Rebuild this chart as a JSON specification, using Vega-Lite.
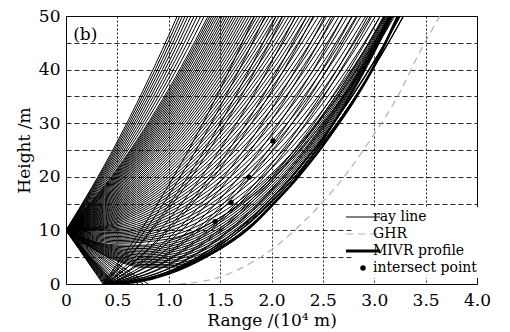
{
"$schema":"https://vega.github.io/schema/vega-lite/v6.json",
"width":411,"height":268,
"autosize":{"type":"none"},
"padding":{"left":66,"top":16,"right":33,"bottom":48},
"background":"white",
"config":{
 "view":{"stroke":"black","strokeWidth":1},
 "font":"DejaVu Serif",
 "axis":{"labelFont":"DejaVu Serif","titleFont":"DejaVu Serif","labelFontSize":17,"titleFontSize":17,"titleFontWeight":"normal","labelColor":"black","titleColor":"black","ticks":false,"domain":false,"grid":true,"gridColor":"#111","gridWidth":1,"gridOpacity":0.9,"zindex":1}
},
"datasets":{
"rays":[
{"i":1,"x":0,"y":10},{"i":1,"x":0.5,"y":26.6},{"i":1,"x":1,"y":46.4},{"i":1,"x":1.5,"y":69.4},
{"i":2,"x":0,"y":10},{"i":2,"x":0.5,"y":26.1},{"i":2,"x":1,"y":45.4},{"i":2,"x":1.5,"y":67.9},
{"i":3,"x":0,"y":10},{"i":3,"x":0.5,"y":25.6},{"i":3,"x":1,"y":44.4},{"i":3,"x":1.5,"y":66.4},
{"i":4,"x":0,"y":10},{"i":4,"x":0.5,"y":25.1},{"i":4,"x":1,"y":43.4},{"i":4,"x":1.5,"y":64.9},
{"i":5,"x":0,"y":10},{"i":5,"x":0.5,"y":24.6},{"i":5,"x":1,"y":42.4},{"i":5,"x":1.5,"y":63.4},
{"i":6,"x":0,"y":10},{"i":6,"x":0.5,"y":24.1},{"i":6,"x":1,"y":41.4},{"i":6,"x":1.5,"y":61.9},
{"i":7,"x":0,"y":10},{"i":7,"x":0.5,"y":23.6},{"i":7,"x":1,"y":40.4},{"i":7,"x":1.5,"y":60.4},
{"i":8,"x":0,"y":10},{"i":8,"x":0.5,"y":23.1},{"i":8,"x":1,"y":39.4},{"i":8,"x":1.5,"y":58.9},
{"i":9,"x":0,"y":10},{"i":9,"x":0.5,"y":22.6},{"i":9,"x":1,"y":38.4},{"i":9,"x":1.5,"y":57.4},
{"i":10,"x":0,"y":10},{"i":10,"x":0.5,"y":22.1},{"i":10,"x":1,"y":37.4},{"i":10,"x":1.5,"y":55.9},
{"i":11,"x":0,"y":10},{"i":11,"x":0.5,"y":21.6},{"i":11,"x":1,"y":36.4},{"i":11,"x":1.5,"y":54.4},
{"i":12,"x":0,"y":10},{"i":12,"x":0.5,"y":21.1},{"i":12,"x":1,"y":35.4},{"i":12,"x":1.5,"y":52.9},
{"i":13,"x":0,"y":10},{"i":13,"x":0.5,"y":20.6},{"i":13,"x":1,"y":34.4},{"i":13,"x":1.5,"y":51.4},
{"i":14,"x":0,"y":10},{"i":14,"x":0.5,"y":20.1},{"i":14,"x":1,"y":33.4},{"i":14,"x":1.5,"y":49.9},{"i":14,"x":2,"y":69.6},
{"i":15,"x":0,"y":10},{"i":15,"x":0.5,"y":19.6},{"i":15,"x":1,"y":32.4},{"i":15,"x":1.5,"y":48.4},{"i":15,"x":2,"y":67.6},
{"i":16,"x":0,"y":10},{"i":16,"x":0.5,"y":19.1},{"i":16,"x":1,"y":31.4},{"i":16,"x":1.5,"y":46.9},{"i":16,"x":2,"y":65.6},
{"i":17,"x":0,"y":10},{"i":17,"x":0.5,"y":18.6},{"i":17,"x":1,"y":30.4},{"i":17,"x":1.5,"y":45.4},{"i":17,"x":2,"y":63.6},
{"i":18,"x":0,"y":10},{"i":18,"x":0.5,"y":18.1},{"i":18,"x":1,"y":29.4},{"i":18,"x":1.5,"y":43.9},{"i":18,"x":2,"y":61.6},
{"i":19,"x":0,"y":10},{"i":19,"x":0.5,"y":17.6},{"i":19,"x":1,"y":28.4},{"i":19,"x":1.5,"y":42.4},{"i":19,"x":2,"y":59.6},
{"i":20,"x":0,"y":10},{"i":20,"x":0.5,"y":17.1},{"i":20,"x":1,"y":27.4},{"i":20,"x":1.5,"y":40.9},{"i":20,"x":2,"y":57.6},
{"i":21,"x":0,"y":10},{"i":21,"x":0.5,"y":16.6},{"i":21,"x":1,"y":26.4},{"i":21,"x":1.5,"y":39.4},{"i":21,"x":2,"y":55.6},
{"i":22,"x":0,"y":10},{"i":22,"x":0.5,"y":16.1},{"i":22,"x":1,"y":25.4},{"i":22,"x":1.5,"y":37.9},{"i":22,"x":2,"y":53.6},
{"i":23,"x":0,"y":10},{"i":23,"x":0.5,"y":15.6},{"i":23,"x":1,"y":24.4},{"i":23,"x":1.5,"y":36.4},{"i":23,"x":2,"y":51.6},
{"i":24,"x":0,"y":10},{"i":24,"x":0.5,"y":15.1},{"i":24,"x":1,"y":23.4},{"i":24,"x":1.5,"y":34.9},{"i":24,"x":2,"y":49.6},{"i":24,"x":2.5,"y":67.5},
{"i":25,"x":0,"y":10},{"i":25,"x":0.5,"y":14.6},{"i":25,"x":1,"y":22.4},{"i":25,"x":1.5,"y":33.4},{"i":25,"x":2,"y":47.6},{"i":25,"x":2.5,"y":65},
{"i":26,"x":0,"y":10},{"i":26,"x":0.5,"y":14.1},{"i":26,"x":1,"y":21.4},{"i":26,"x":1.5,"y":31.9},{"i":26,"x":2,"y":45.6},{"i":26,"x":2.5,"y":62.5},
{"i":27,"x":0,"y":10},{"i":27,"x":0.5,"y":13.6},{"i":27,"x":1,"y":20.4},{"i":27,"x":1.5,"y":30.4},{"i":27,"x":2,"y":43.6},{"i":27,"x":2.5,"y":60},
{"i":28,"x":0,"y":10},{"i":28,"x":0.5,"y":13.1},{"i":28,"x":1,"y":19.4},{"i":28,"x":1.5,"y":28.9},{"i":28,"x":2,"y":41.6},{"i":28,"x":2.5,"y":57.5},
{"i":29,"x":0,"y":10},{"i":29,"x":0.5,"y":12.6},{"i":29,"x":1,"y":18.4},{"i":29,"x":1.5,"y":27.4},{"i":29,"x":2,"y":39.6},{"i":29,"x":2.5,"y":55},
{"i":30,"x":0,"y":10},{"i":30,"x":0.5,"y":12.1},{"i":30,"x":1,"y":17.4},{"i":30,"x":1.5,"y":25.9},{"i":30,"x":2,"y":37.6},{"i":30,"x":2.5,"y":52.5},
{"i":31,"x":0,"y":10},{"i":31,"x":0.5,"y":11.6},{"i":31,"x":1,"y":16.4},{"i":31,"x":1.5,"y":24.4},{"i":31,"x":2,"y":35.6},{"i":31,"x":2.5,"y":50},{"i":31,"x":3,"y":67.6},
{"i":32,"x":0,"y":10},{"i":32,"x":0.5,"y":11.1},{"i":32,"x":1,"y":15.4},{"i":32,"x":1.5,"y":22.9},{"i":32,"x":2,"y":33.6},{"i":32,"x":2.5,"y":47.5},{"i":32,"x":3,"y":64.6},
{"i":33,"x":0,"y":10},{"i":33,"x":0.5,"y":10.6},{"i":33,"x":1,"y":14.4},{"i":33,"x":1.5,"y":21.4},{"i":33,"x":2,"y":31.6},{"i":33,"x":2.5,"y":45},{"i":33,"x":3,"y":61.6},
{"i":34,"x":0,"y":10},{"i":34,"x":0.5,"y":10.1},{"i":34,"x":1,"y":13.4},{"i":34,"x":1.5,"y":19.9},{"i":34,"x":2,"y":29.6},{"i":34,"x":2.5,"y":42.5},{"i":34,"x":3,"y":58.6},
{"i":35,"x":0,"y":10},{"i":35,"x":0.5,"y":9.6},{"i":35,"x":1,"y":12.4},{"i":35,"x":1.5,"y":18.4},{"i":35,"x":2,"y":27.6},{"i":35,"x":2.5,"y":40},{"i":35,"x":3,"y":55.6},
{"i":36,"x":0,"y":10},{"i":36,"x":0.5,"y":9.1},{"i":36,"x":1,"y":11.4},{"i":36,"x":1.5,"y":16.9},{"i":36,"x":2,"y":25.6},{"i":36,"x":2.5,"y":37.5},{"i":36,"x":3,"y":52.6},
{"i":37,"x":0,"y":10},{"i":37,"x":0.5,"y":8.6},{"i":37,"x":1,"y":10.4},{"i":37,"x":1.5,"y":15.4},{"i":37,"x":2,"y":23.6},{"i":37,"x":2.5,"y":35},{"i":37,"x":3,"y":49.6},{"i":37,"x":3.5,"y":67.4},
{"i":38,"x":0,"y":10},{"i":38,"x":0.5,"y":8.1},{"i":38,"x":1,"y":9.4},{"i":38,"x":1.5,"y":13.9},{"i":38,"x":2,"y":21.6},{"i":38,"x":2.5,"y":32.5},{"i":38,"x":3,"y":46.6},{"i":38,"x":3.5,"y":63.9},
{"i":39,"x":0,"y":10},{"i":39,"x":0.5,"y":7.6},{"i":39,"x":1,"y":8.4},{"i":39,"x":1.5,"y":12.4},{"i":39,"x":2,"y":19.6},{"i":39,"x":2.5,"y":30},{"i":39,"x":3,"y":43.6},{"i":39,"x":3.5,"y":60.4},
{"i":40,"x":0,"y":10},{"i":40,"x":0.5,"y":7.27},{"i":40,"x":0.75,"y":7.22},{"i":40,"x":1,"y":8.07},{"i":40,"x":1.5,"y":12.4},{"i":40,"x":2,"y":20.26},{"i":40,"x":2.5,"y":31.66},{"i":40,"x":3,"y":46.59},{"i":40,"x":3.5,"y":65.06},
{"i":41,"x":0,"y":10},{"i":41,"x":0.5,"y":6.83},{"i":41,"x":0.75,"y":6.61},{"i":41,"x":1,"y":7.31},{"i":41,"x":1.5,"y":11.46},{"i":41,"x":2,"y":19.26},{"i":41,"x":2.5,"y":30.71},{"i":41,"x":3,"y":45.83},{"i":41,"x":3.5,"y":64.6},
{"i":42,"x":0,"y":10},{"i":42,"x":0.5,"y":6.39},{"i":42,"x":0.75,"y":6.0},{"i":42,"x":1,"y":6.56},{"i":42,"x":1.5,"y":10.51},{"i":42,"x":2,"y":18.24},{"i":42,"x":2.5,"y":29.75},{"i":42,"x":3,"y":45.04},{"i":42,"x":3.5,"y":64.11},
{"i":43,"x":0,"y":10},{"i":43,"x":0.5,"y":5.96},{"i":43,"x":0.75,"y":5.41},{"i":43,"x":1,"y":5.84},{"i":43,"x":1.5,"y":9.64},{"i":43,"x":2,"y":17.36},{"i":43,"x":2.5,"y":29.01},{"i":43,"x":3,"y":44.57},{"i":43,"x":3.5,"y":64.05},
{"i":44,"x":0,"y":10},{"i":44,"x":0.5,"y":5.53},{"i":44,"x":0.75,"y":4.82},{"i":44,"x":1,"y":5.12},{"i":44,"x":1.5,"y":8.77},{"i":44,"x":2,"y":16.48},{"i":44,"x":2.5,"y":28.25},{"i":44,"x":3,"y":44.08},{"i":44,"x":3.5,"y":63.97},
{"i":45,"x":0,"y":10},{"i":45,"x":0.5,"y":5.1},{"i":45,"x":0.75,"y":4.22},{"i":45,"x":1,"y":4.4},{"i":45,"x":1.5,"y":7.89},{"i":45,"x":2,"y":15.59},{"i":45,"x":2.5,"y":27.48},{"i":45,"x":3,"y":43.57},{"i":45,"x":3.5,"y":63.86},
{"i":46,"x":0,"y":10},{"i":46,"x":0.5,"y":4.67},{"i":46,"x":0.75,"y":3.63},{"i":46,"x":1,"y":3.67},{"i":46,"x":1.5,"y":7.01},{"i":46,"x":2,"y":14.69},{"i":46,"x":2.5,"y":26.71},{"i":46,"x":3,"y":43.06},{"i":46,"x":3.5,"y":63.74},
{"i":47,"x":0,"y":10},{"i":47,"x":0.5,"y":4.28},{"i":47,"x":0.75,"y":3.12},{"i":47,"x":1,"y":3.11},{"i":47,"x":1.5,"y":6.5},{"i":47,"x":2,"y":14.44},{"i":47,"x":2.5,"y":26.94},{"i":47,"x":3,"y":44.0},{"i":47,"x":3.5,"y":65.6},
{"i":48,"x":0,"y":10},{"i":48,"x":0.36,"y":0},
{"i":49,"x":0,"y":10},{"i":49,"x":0.37,"y":0},
{"i":50,"x":0,"y":10},{"i":50,"x":0.38,"y":0},
{"i":51,"x":0,"y":10},{"i":51,"x":0.39,"y":0},
{"i":52,"x":0,"y":10},{"i":52,"x":0.40,"y":0},
{"i":53,"x":0,"y":10},{"i":53,"x":0.41,"y":0},
{"i":54,"x":0,"y":10},{"i":54,"x":0.42,"y":0},
{"i":55,"x":0,"y":10},{"i":55,"x":0.43,"y":0},
{"i":56,"x":0,"y":10},{"i":56,"x":0.44,"y":0},
{"i":57,"x":0,"y":10},{"i":57,"x":0.45,"y":0},
{"i":58,"x":0,"y":10},{"i":58,"x":0.46,"y":0},
{"i":59,"x":0,"y":10},{"i":59,"x":0.47,"y":0},
{"i":60,"x":0,"y":10},{"i":60,"x":0.48,"y":0},
{"i":61,"x":0,"y":10},{"i":61,"x":0.50,"y":0},
{"i":62,"x":0,"y":10},{"i":62,"x":0.52,"y":0},
{"i":63,"x":0,"y":10},{"i":63,"x":0.55,"y":0},
{"i":64,"x":0,"y":10},{"i":64,"x":0.58,"y":0},
{"i":65,"x":0,"y":10},{"i":65,"x":0.62,"y":0},
{"i":125,"x":0,"y":10},{"i":125,"x":0.66,"y":0},
{"i":126,"x":0,"y":10},{"i":126,"x":0.70,"y":0},
{"i":127,"x":0,"y":10},{"i":127,"x":0.75,"y":0},
{"i":128,"x":0,"y":10},{"i":128,"x":0.80,"y":0},
{"i":66,"x":0.36,"y":0},{"i":66,"x":0.86,"y":14},{"i":66,"x":1.36,"y":31},{"i":66,"x":1.86,"y":51},
{"i":67,"x":0.37,"y":0},{"i":67,"x":0.87,"y":12.75},{"i":67,"x":1.37,"y":28.5},{"i":67,"x":1.87,"y":47.25},{"i":67,"x":2.37,"y":69},
{"i":68,"x":0.38,"y":0},{"i":68,"x":0.88,"y":11.5},{"i":68,"x":1.38,"y":26},{"i":68,"x":1.88,"y":43.5},{"i":68,"x":2.38,"y":64},
{"i":69,"x":0.36,"y":0},{"i":69,"x":0.86,"y":10.5},{"i":69,"x":1.36,"y":24},{"i":69,"x":1.86,"y":40.5},{"i":69,"x":2.36,"y":60},
{"i":70,"x":0.39,"y":0},{"i":70,"x":0.89,"y":9.5},{"i":70,"x":1.39,"y":22},{"i":70,"x":1.89,"y":37.5},{"i":70,"x":2.39,"y":56},
{"i":71,"x":0.40,"y":0},{"i":71,"x":0.90,"y":8.5},{"i":71,"x":1.40,"y":20},{"i":71,"x":1.90,"y":34.5},{"i":71,"x":2.40,"y":52},
{"i":72,"x":0.38,"y":0},{"i":72,"x":0.88,"y":7.75},{"i":72,"x":1.38,"y":18.5},{"i":72,"x":1.88,"y":32.25},{"i":72,"x":2.38,"y":49},{"i":72,"x":2.88,"y":68.75},
{"i":73,"x":0.41,"y":0},{"i":73,"x":0.91,"y":7},{"i":73,"x":1.41,"y":17},{"i":73,"x":1.91,"y":30},{"i":73,"x":2.41,"y":46},{"i":73,"x":2.91,"y":65},
{"i":74,"x":0.40,"y":0},{"i":74,"x":0.90,"y":6.25},{"i":74,"x":1.40,"y":15.5},{"i":74,"x":1.90,"y":27.75},{"i":74,"x":2.40,"y":43},{"i":74,"x":2.90,"y":61.25},
{"i":75,"x":0.42,"y":0},{"i":75,"x":0.92,"y":5.6},{"i":75,"x":1.42,"y":14.2},{"i":75,"x":1.92,"y":25.8},{"i":75,"x":2.42,"y":40.4},{"i":75,"x":2.92,"y":58},
{"i":76,"x":0.43,"y":0},{"i":76,"x":0.93,"y":5},{"i":76,"x":1.43,"y":13},{"i":76,"x":1.93,"y":24},{"i":76,"x":2.43,"y":38},{"i":76,"x":2.93,"y":55},
{"i":77,"x":0.41,"y":0},{"i":77,"x":0.91,"y":4.5},{"i":77,"x":1.41,"y":12},{"i":77,"x":1.91,"y":22.5},{"i":77,"x":2.41,"y":36},{"i":77,"x":2.91,"y":52.5},
{"i":78,"x":0.44,"y":0},{"i":78,"x":0.94,"y":4},{"i":78,"x":1.44,"y":11},{"i":78,"x":1.94,"y":21},{"i":78,"x":2.44,"y":34},{"i":78,"x":2.94,"y":50},{"i":78,"x":3.44,"y":69},
{"i":79,"x":0.42,"y":0},{"i":79,"x":0.92,"y":3.6},{"i":79,"x":1.42,"y":10.2},{"i":79,"x":1.92,"y":19.8},{"i":79,"x":2.42,"y":32.4},{"i":79,"x":2.92,"y":48},{"i":79,"x":3.42,"y":66.6},
{"i":80,"x":0.45,"y":0},{"i":80,"x":0.95,"y":3.25},{"i":80,"x":1.45,"y":9.5},{"i":80,"x":1.95,"y":18.75},{"i":80,"x":2.45,"y":31},{"i":80,"x":2.95,"y":46.25},{"i":80,"x":3.45,"y":64.5},
{"i":81,"x":0.43,"y":0},{"i":81,"x":0.93,"y":2.9},{"i":81,"x":1.43,"y":8.8},{"i":81,"x":1.93,"y":17.7},{"i":81,"x":2.43,"y":29.6},{"i":81,"x":2.93,"y":44.5},{"i":81,"x":3.43,"y":62.4},
{"i":82,"x":0.46,"y":0},{"i":82,"x":0.96,"y":2.6},{"i":82,"x":1.46,"y":8.2},{"i":82,"x":1.96,"y":16.8},{"i":82,"x":2.46,"y":28.4},{"i":82,"x":2.96,"y":43},{"i":82,"x":3.46,"y":60.6},
{"i":83,"x":0.44,"y":0},{"i":83,"x":0.94,"y":2.35},{"i":83,"x":1.44,"y":7.7},{"i":83,"x":1.94,"y":16.05},{"i":83,"x":2.44,"y":27.4},{"i":83,"x":2.94,"y":41.75},{"i":83,"x":3.44,"y":59.1},
{"i":84,"x":0.47,"y":0},{"i":84,"x":0.97,"y":2.15},{"i":84,"x":1.47,"y":7.3},{"i":84,"x":1.97,"y":15.45},{"i":84,"x":2.47,"y":26.6},{"i":84,"x":2.97,"y":40.75},{"i":84,"x":3.47,"y":57.9},
{"i":85,"x":0.45,"y":0},{"i":85,"x":0.95,"y":2},{"i":85,"x":1.45,"y":7},{"i":85,"x":1.95,"y":15},{"i":85,"x":2.45,"y":26},{"i":85,"x":2.95,"y":40},{"i":85,"x":3.45,"y":57},
{"i":86,"x":0.43,"y":0},{"i":86,"x":0.93,"y":1.85},{"i":86,"x":1.43,"y":6.7},{"i":86,"x":1.93,"y":14.55},{"i":86,"x":2.43,"y":25.4},{"i":86,"x":2.93,"y":39.25},{"i":86,"x":3.43,"y":56.1},
{"i":87,"x":0.44,"y":0},{"i":87,"x":0.94,"y":1.73},{"i":87,"x":1.44,"y":6.45},{"i":87,"x":1.94,"y":14.18},{"i":87,"x":2.44,"y":24.9},{"i":87,"x":2.94,"y":38.6},{"i":87,"x":3.44,"y":55.35},
{"i":88,"x":0.42,"y":0},{"i":88,"x":0.92,"y":1.63},{"i":88,"x":1.42,"y":6.25},{"i":88,"x":1.92,"y":13.88},{"i":88,"x":2.42,"y":24.5},{"i":88,"x":2.92,"y":38.1},{"i":88,"x":3.42,"y":54.75},
{"i":89,"x":0.41,"y":0},{"i":89,"x":0.91,"y":1.55},{"i":89,"x":1.41,"y":6.1},{"i":89,"x":1.91,"y":13.65},{"i":89,"x":2.41,"y":24.2},{"i":89,"x":2.91,"y":37.75},{"i":89,"x":3.41,"y":54.3},
{"i":90,"x":0,"y":10},{"i":90,"x":0.5,"y":21.35},{"i":90,"x":1,"y":35.9},{"i":90,"x":1.5,"y":53.65},
{"i":91,"x":0,"y":10},{"i":91,"x":0.5,"y":20.85},{"i":91,"x":1,"y":34.9},{"i":91,"x":1.5,"y":52.15},
{"i":92,"x":0,"y":10},{"i":92,"x":0.5,"y":20.35},{"i":92,"x":1,"y":33.9},{"i":92,"x":1.5,"y":50.65},
{"i":93,"x":0,"y":10},{"i":93,"x":0.5,"y":19.85},{"i":93,"x":1,"y":32.9},{"i":93,"x":1.5,"y":49.15},{"i":93,"x":2,"y":68.6},
{"i":94,"x":0,"y":10},{"i":94,"x":0.5,"y":19.35},{"i":94,"x":1,"y":31.9},{"i":94,"x":1.5,"y":47.65},{"i":94,"x":2,"y":66.6},
{"i":95,"x":0,"y":10},{"i":95,"x":0.5,"y":18.85},{"i":95,"x":1,"y":30.9},{"i":95,"x":1.5,"y":46.15},{"i":95,"x":2,"y":64.6},
{"i":96,"x":0,"y":10},{"i":96,"x":0.5,"y":18.35},{"i":96,"x":1,"y":29.9},{"i":96,"x":1.5,"y":44.65},{"i":96,"x":2,"y":62.6},
{"i":97,"x":0,"y":10},{"i":97,"x":0.5,"y":17.85},{"i":97,"x":1,"y":28.9},{"i":97,"x":1.5,"y":43.15},{"i":97,"x":2,"y":60.6},
{"i":98,"x":0,"y":10},{"i":98,"x":0.5,"y":17.35},{"i":98,"x":1,"y":27.9},{"i":98,"x":1.5,"y":41.65},{"i":98,"x":2,"y":58.6},
{"i":99,"x":0,"y":10},{"i":99,"x":0.5,"y":16.85},{"i":99,"x":1,"y":26.9},{"i":99,"x":1.5,"y":40.15},{"i":99,"x":2,"y":56.6},
{"i":100,"x":0,"y":10},{"i":100,"x":0.5,"y":16.35},{"i":100,"x":1,"y":25.9},{"i":100,"x":1.5,"y":38.65},{"i":100,"x":2,"y":54.6},
{"i":101,"x":0,"y":10},{"i":101,"x":0.5,"y":15.85},{"i":101,"x":1,"y":24.9},{"i":101,"x":1.5,"y":37.15},{"i":101,"x":2,"y":52.6},
{"i":102,"x":0,"y":10},{"i":102,"x":0.5,"y":15.35},{"i":102,"x":1,"y":23.9},{"i":102,"x":1.5,"y":35.65},{"i":102,"x":2,"y":50.6},
{"i":103,"x":0,"y":10},{"i":103,"x":0.5,"y":14.85},{"i":103,"x":1,"y":22.9},{"i":103,"x":1.5,"y":34.15},{"i":103,"x":2,"y":48.6},{"i":103,"x":2.5,"y":66.25},
{"i":104,"x":0,"y":10},{"i":104,"x":0.5,"y":14.35},{"i":104,"x":1,"y":21.9},{"i":104,"x":1.5,"y":32.65},{"i":104,"x":2,"y":46.6},{"i":104,"x":2.5,"y":63.75},
{"i":105,"x":0,"y":10},{"i":105,"x":0.5,"y":13.85},{"i":105,"x":1,"y":20.9},{"i":105,"x":1.5,"y":31.15},{"i":105,"x":2,"y":44.6},{"i":105,"x":2.5,"y":61.25},
{"i":106,"x":0,"y":10},{"i":106,"x":0.5,"y":13.35},{"i":106,"x":1,"y":19.9},{"i":106,"x":1.5,"y":29.65},{"i":106,"x":2,"y":42.6},{"i":106,"x":2.5,"y":58.75},
{"i":107,"x":0,"y":10},{"i":107,"x":0.5,"y":12.85},{"i":107,"x":1,"y":18.9},{"i":107,"x":1.5,"y":28.15},{"i":107,"x":2,"y":40.6},{"i":107,"x":2.5,"y":56.25},
{"i":108,"x":0,"y":10},{"i":108,"x":0.5,"y":12.35},{"i":108,"x":1,"y":17.9},{"i":108,"x":1.5,"y":26.65},{"i":108,"x":2,"y":38.6},{"i":108,"x":2.5,"y":53.75},
{"i":109,"x":0,"y":10},{"i":109,"x":0.5,"y":11.85},{"i":109,"x":1,"y":16.9},{"i":109,"x":1.5,"y":25.15},{"i":109,"x":2,"y":36.6},{"i":109,"x":2.5,"y":51.25},
{"i":110,"x":0,"y":10},{"i":110,"x":0.5,"y":11.35},{"i":110,"x":1,"y":15.9},{"i":110,"x":1.5,"y":23.65},{"i":110,"x":2,"y":34.6},{"i":110,"x":2.5,"y":48.75},{"i":110,"x":3,"y":66.1},
{"i":111,"x":0,"y":10},{"i":111,"x":0.5,"y":10.85},{"i":111,"x":1,"y":14.9},{"i":111,"x":1.5,"y":22.15},{"i":111,"x":2,"y":32.6},{"i":111,"x":2.5,"y":46.25},{"i":111,"x":3,"y":63.1},
{"i":112,"x":0,"y":10},{"i":112,"x":0.5,"y":10.35},{"i":112,"x":1,"y":13.9},{"i":112,"x":1.5,"y":20.65},{"i":112,"x":2,"y":30.6},{"i":112,"x":2.5,"y":43.75},{"i":112,"x":3,"y":60.1},
{"i":113,"x":0,"y":10},{"i":113,"x":0.5,"y":9.85},{"i":113,"x":1,"y":12.9},{"i":113,"x":1.5,"y":19.15},{"i":113,"x":2,"y":28.6},{"i":113,"x":2.5,"y":41.25},{"i":113,"x":3,"y":57.1},
{"i":114,"x":0,"y":10},{"i":114,"x":0.5,"y":9.35},{"i":114,"x":1,"y":11.9},{"i":114,"x":1.5,"y":17.65},{"i":114,"x":2,"y":26.6},{"i":114,"x":2.5,"y":38.75},{"i":114,"x":3,"y":54.1},
{"i":115,"x":0,"y":10},{"i":115,"x":0.5,"y":8.85},{"i":115,"x":1,"y":10.9},{"i":115,"x":1.5,"y":16.15},{"i":115,"x":2,"y":24.6},{"i":115,"x":2.5,"y":36.25},{"i":115,"x":3,"y":51.1},
{"i":116,"x":0,"y":10},{"i":116,"x":0.5,"y":8.35},{"i":116,"x":1,"y":9.9},{"i":116,"x":1.5,"y":14.65},{"i":116,"x":2,"y":22.6},{"i":116,"x":2.5,"y":33.75},{"i":116,"x":3,"y":48.1},{"i":116,"x":3.5,"y":65.65},
{"i":117,"x":0,"y":10},{"i":117,"x":0.5,"y":7.85},{"i":117,"x":1,"y":8.9},{"i":117,"x":1.5,"y":13.15},{"i":117,"x":2,"y":20.6},{"i":117,"x":2.5,"y":31.25},{"i":117,"x":3,"y":45.1},{"i":117,"x":3.5,"y":62.15},
{"i":118,"x":0,"y":10},{"i":118,"x":0.5,"y":7.05},{"i":118,"x":0.75,"y":6.92},{"i":118,"x":1,"y":7.69},{"i":118,"x":1.5,"y":11.93},{"i":118,"x":2,"y":19.76},{"i":118,"x":2.5,"y":31.19},{"i":118,"x":3,"y":46.21},{"i":118,"x":3.5,"y":64.83},
{"i":119,"x":0,"y":10},{"i":119,"x":0.5,"y":6.61},{"i":119,"x":0.75,"y":6.31},{"i":119,"x":1,"y":6.94},{"i":119,"x":1.5,"y":10.99},{"i":119,"x":2,"y":18.75},{"i":119,"x":2.5,"y":30.24},{"i":119,"x":3,"y":45.44},{"i":119,"x":3.5,"y":64.37},
{"i":120,"x":0,"y":10},{"i":120,"x":0.5,"y":6.18},{"i":120,"x":0.75,"y":5.71},{"i":120,"x":1,"y":6.2},{"i":120,"x":1.5,"y":10.08},{"i":120,"x":2,"y":17.8},{"i":120,"x":2.5,"y":29.38},{"i":120,"x":3,"y":44.81},{"i":120,"x":3.5,"y":64.09},
{"i":121,"x":0,"y":10},{"i":121,"x":0.5,"y":5.75},{"i":121,"x":0.75,"y":5.11},{"i":121,"x":1,"y":5.48},{"i":121,"x":1.5,"y":9.21},{"i":121,"x":2,"y":16.92},{"i":121,"x":2.5,"y":28.63},{"i":121,"x":3,"y":44.32},{"i":121,"x":3.5,"y":64.01},
{"i":122,"x":0,"y":10},{"i":122,"x":0.5,"y":5.31},{"i":122,"x":0.75,"y":4.52},{"i":122,"x":1,"y":4.76},{"i":122,"x":1.5,"y":8.33},{"i":122,"x":2,"y":16.04},{"i":122,"x":2.5,"y":27.87},{"i":122,"x":3,"y":43.83},{"i":122,"x":3.5,"y":63.92},
{"i":123,"x":0,"y":10},{"i":123,"x":0.5,"y":4.88},{"i":123,"x":0.75,"y":3.93},{"i":123,"x":1,"y":4.04},{"i":123,"x":1.5,"y":7.45},{"i":123,"x":2,"y":15.14},{"i":123,"x":2.5,"y":27.09},{"i":123,"x":3,"y":43.32},{"i":123,"x":3.5,"y":63.8},
{"i":124,"x":0,"y":10},{"i":124,"x":0.5,"y":4.47},{"i":124,"x":0.75,"y":3.38},{"i":124,"x":1,"y":3.39},{"i":124,"x":1.5,"y":6.75},{"i":124,"x":2,"y":14.56},{"i":124,"x":2.5,"y":26.82},{"i":124,"x":3,"y":43.52},{"i":124,"x":3.5,"y":64.66}
],
"ghr":[{"x":1.10,"y":0},{"x":1.5,"y":1.3},{"x":1.75,"y":3.4},{"x":2.0,"y":6.4},{"x":2.28,"y":11},{"x":2.5,"y":15.3},{"x":2.73,"y":20.6},{"x":2.93,"y":26},{"x":3.25,"y":35.8},{"x":3.43,"y":42.8},{"x":3.64,"y":50}],
"mivr":[{"x":0.42,"y":0},{"x":0.7,"y":0.45},{"x":1.0,"y":1.95},{"x":1.38,"y":5.3},{"x":1.79,"y":10.6},{"x":2.02,"y":15},{"x":2.25,"y":19.8},{"x":2.46,"y":24.8},{"x":2.64,"y":29.6},{"x":2.82,"y":34.8},{"x":2.98,"y":40},{"x":3.11,"y":45},{"x":3.23,"y":50}],
"pts":[{"x":1.451,"y":11.65},{"x":1.607,"y":15.2},{"x":1.782,"y":19.9},{"x":2.013,"y":26.7}],
"lab":[{"x":0.07,"y":46.4,"t":"(b)"}]
},
"encoding":{
 "x":{"field":"x","type":"quantitative","scale":{"domain":[0,4],"nice":false,"zero":false},
  "axis":{"title":"Range /(10⁴ m)","values":[0,0.5,1,1.5,2,2.5,3,3.5,4],"labelExpr":"datum.value === 0 ? '0' : format(datum.value, '.1f')","gridDash":[2,2],"labelPadding":8,"titlePadding":4,"labelFlush":false}},
 "y":{"field":"y","type":"quantitative","scale":{"domain":[0,50],"nice":false},
  "axis":{"title":"Height /m","values":[0,5,10,15,20,25,30,35,40,45,50],"labelExpr":"datum.value % 10 === 0 ? datum.label : ''","gridDash":[5,3],"labelPadding":6,"titlePadding":5}}
},
"layer":[
 {"data":{"name":"rays"},"mark":{"type":"line","interpolate":"monotone","clip":true,"strokeWidth":1},
  "encoding":{"detail":{"field":"i","type":"nominal"},
   "color":{"datum":"ray line","scale":{"domain":["ray line","GHR","MIVR profile","intersect point"],"range":["black","#b3b3b3","black","black"]},
    "legend":{"orient":"none","legendX":287,"legendY":191,"padding":3,"title":null,"fillColor":"white","zindex":2,"labelFont":"DejaVu Serif","labelFontSize":14,"labelColor":"black","labelOffset":3,"symbolType":"stroke","symbolSize":1156,"rowPadding":3,
     "encode":{"symbols":{"update":{
      "shape":{"signal":"datum.value === 'intersect point' ? 'circle' : 'stroke'"},
      "size":{"signal":"datum.value === 'intersect point' ? 30 : 1156"},
      "strokeWidth":{"signal":"datum.value === 'MIVR profile' ? 3 : (datum.value === 'intersect point' ? 0 : 1)"},
      "strokeDash":{"signal":"datum.value === 'GHR' ? [7,5] : [1,0]"},
      "fill":{"signal":"datum.value === 'intersect point' ? 'black' : 'transparent'"},
      "stroke":{"signal":"datum.value === 'GHR' ? '#b3b3b3' : 'black'"},
      "opacity":{"value":1}
     }}}}}}},
 {"data":{"name":"ghr"},"mark":{"type":"line","interpolate":"monotone","clip":true,"strokeWidth":1.2,"strokeDash":[7,5]},
  "encoding":{"color":{"datum":"GHR"}}},
 {"data":{"name":"mivr"},"mark":{"type":"line","interpolate":"monotone","clip":true,"strokeWidth":2.6},
  "encoding":{"color":{"datum":"MIVR profile"}}},
 {"data":{"name":"pts"},"mark":{"type":"point","filled":true,"size":28,"opacity":1},
  "encoding":{"color":{"datum":"intersect point"}}},
 {"data":{"name":"lab"},"mark":{"type":"text","align":"left","baseline":"middle","fontSize":17,"font":"DejaVu Serif","color":"black"},
  "encoding":{"text":{"field":"t"}}}
]
}
